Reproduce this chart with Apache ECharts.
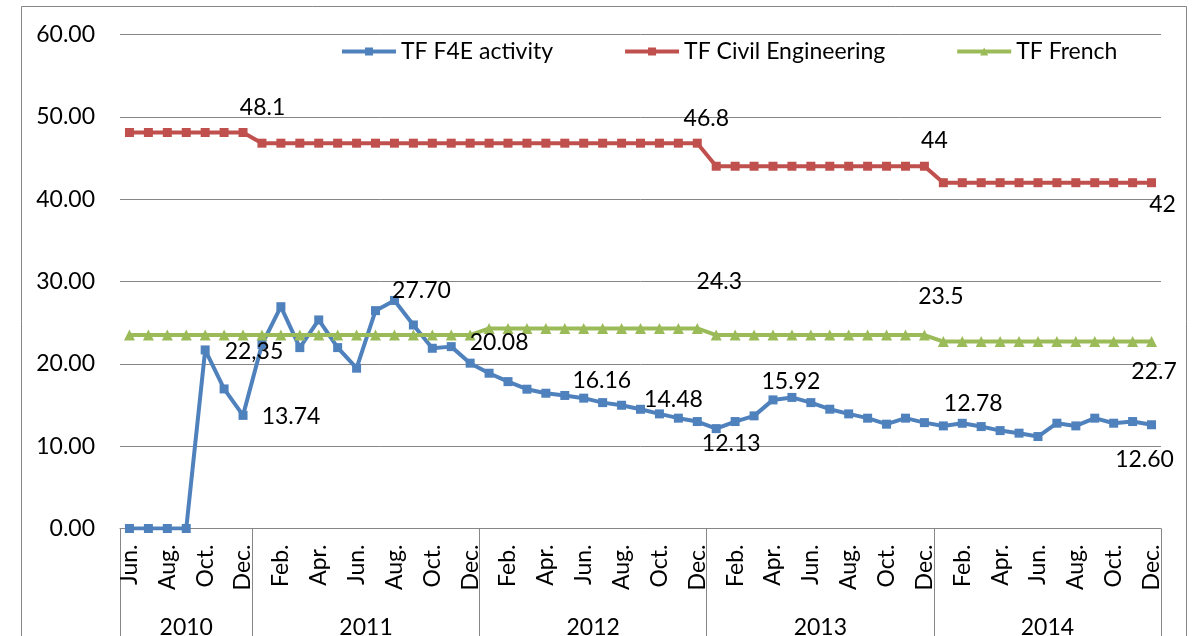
<!DOCTYPE html>
<html><head><meta charset="utf-8">
<script src="https://cdn.jsdelivr.net/npm/echarts@6/dist/echarts.min.js"></script>
<style>html,body{margin:0;padding:0;background:#fff}#c{width:1198px;height:636px}</style>
</head><body><div id="c"></div>
<script>
// ---------- data ----------
const years = ['2010', '2011', '2012', '2013', '2014'];
const monthsPerYear = [7, 12, 12, 12, 12];
const months2010 = ['Jun.', 'Jul.', 'Aug.', 'Sep.', 'Oct.', 'Nov.', 'Dec.'];
const monthsYear = ['Jan.', 'Feb.', 'Mar.', 'Apr.', 'May', 'Jun.', 'Jul.', 'Aug.', 'Sep.', 'Oct.', 'Nov.', 'Dec.'];
const categories = months2010.concat(monthsYear, monthsYear, monthsYear, monthsYear);
const yTickLabels = ['0.00', '10.00', '20.00', '30.00', '40.00', '50.00', '60.00'];

const seriesNames = ['TF F4E activity', 'TF Civil Engineering', 'TF French'];

const f4e = [0, 0, 0, 0, 21.69, 16.95, 13.74,
  22.35, 26.94, 21.97, 25.33, 21.97, 19.47, 26.46, 27.70, 24.72, 21.89, 22.09, 20.08,
  18.86, 17.84, 16.92, 16.43, 16.16, 15.83, 15.29, 14.97, 14.48, 13.92, 13.40, 12.99,
  12.13, 12.99, 13.68, 15.62, 15.92, 15.29, 14.49, 13.92, 13.40, 12.67, 13.40, 12.86,
  12.46, 12.78, 12.38, 11.89, 11.58, 11.17, 12.79, 12.46, 13.40, 12.79, 12.99, 12.60];

const civil = [48.1, 48.1, 48.1, 48.1, 48.1, 48.1, 48.1,
  46.8, 46.8, 46.8, 46.8, 46.8, 46.8, 46.8, 46.8, 46.8, 46.8, 46.8, 46.8,
  46.8, 46.8, 46.8, 46.8, 46.8, 46.8, 46.8, 46.8, 46.8, 46.8, 46.8, 46.8,
  44, 44, 44, 44, 44, 44, 44, 44, 44, 44, 44, 44,
  42, 42, 42, 42, 42, 42, 42, 42, 42, 42, 42, 42];

const french = [23.5, 23.5, 23.5, 23.5, 23.5, 23.5, 23.5,
  23.5, 23.5, 23.5, 23.5, 23.5, 23.5, 23.5, 23.5, 23.5, 23.5, 23.5, 23.5,
  24.3, 24.3, 24.3, 24.3, 24.3, 24.3, 24.3, 24.3, 24.3, 24.3, 24.3, 24.3,
  23.5, 23.5, 23.5, 23.5, 23.5, 23.5, 23.5, 23.5, 23.5, 23.5, 23.5, 23.5,
  22.7, 22.7, 22.7, 22.7, 22.7, 22.7, 22.7, 22.7, 22.7, 22.7, 22.7, 22.7];

const f4eLabelIdx = [6, 7, 14, 18, 23, 27, 31, 35, 44, 54];
const f4eLabelText = ['13.74', '22,35', '27.70', '20.08', '16.16', '14.48', '12.13', '15.92', '12.78', '12.60'];
const civilLabelIdx = [6, 30, 42, 54];
const civilLabelText = ['48.1', '46.8', '44', '42'];
const frenchLabelIdx = [30, 42, 54];
const frenchLabelText = ['24.3', '23.5', '22.7'];

// ---------- styles ----------
const FONT = 'Lato';
const FS = 23;
const f4eLabelOffset = [[48, 1], [-8, 7], [27, -10], [29, -21], [37, -15], [33, -10], [15, 15], [-1, -16], [11, -20], [-7, 35]];
const civilLabelOffset = [[19.5, -25], [9, -25], [10, -26], [11, 22]];
const frenchLabelOffset = [[22, -47], [16.5, -38], [2.5, 30]];

function withLabels(values, idx, texts, offsets) {
  return values.map(function (v, i) {
    const k = idx.indexOf(i);
    if (k < 0) return v;
    return {
      value: v,
      label: {
        show: true, position: 'inside', formatter: texts[k], offset: offsets[k],
        color: '#000', fontFamily: FONT, fontSize: FS
      }
    };
  });
}

// year band boundaries and centres (in band units)
const yearEdges = [0];
monthsPerYear.forEach(function (n) { yearEdges.push(yearEdges[yearEdges.length - 1] + n); });
const yearCenters = years.map(function (y, i) { return (yearEdges[i] + yearEdges[i + 1]) / 2; });

const chart = echarts.init(document.getElementById('c'));
chart.setOption({
  animation: false,
  textStyle: { fontFamily: FONT },
  graphic: [{
    type: 'rect', silent: true, z: -1,
    shape: { x: 21.5, y: 6.5, width: 1165, height: 700 },
    style: { fill: 'none', stroke: '#868686', lineWidth: 1 }
  }],
  grid: { left: 120, right: 37, top: 34.5, bottom: 107.5, containLabel: false, outerBoundsMode: 'none' },
  legend: {
    data: seriesNames,
    left: 340, top: 40, padding: 0,
    itemWidth: 54, itemHeight: 10, itemGap: 70,
    lineStyle: { width: 4 },
    textStyle: { fontFamily: FONT, fontSize: FS, color: '#000' }
  },
  xAxis: [{
    type: 'category', data: categories, position: 'bottom',
    boundaryGap: true,
    axisLine: { lineStyle: { color: '#868686', width: 1 } },
    axisTick: { show: false },
    axisLabel: {
      interval: 1, rotate: 90, margin: 16,
      fontFamily: FONT, fontSize: FS, color: '#000'
    },
    splitLine: { show: false }
  }, {
    type: 'value', position: 'bottom', offset: 0,
    min: 0, max: yearEdges[yearEdges.length - 1],
    axisLine: { show: false },
    axisTick: {
      show: true, customValues: yearEdges, length: 110,
      lineStyle: { color: '#868686', width: 1 }
    },
    axisLabel: {
      customValues: yearCenters, margin: 88,
      fontFamily: FONT, fontSize: FS, color: '#000',
      formatter: function (v) {
        const k = yearCenters.indexOf(v);
        return k < 0 ? '' : years[k];
      }
    },
    splitLine: { show: false }
  }],
  yAxis: {
    type: 'value', min: 0, max: 60, interval: 10,
    axisLine: { show: false },
    axisTick: { show: false },
    axisLabel: {
      margin: 25, fontFamily: FONT, fontSize: FS, color: '#000',
      formatter: function (v) { return yTickLabels[Math.round(v / 10)]; }
    },
    splitLine: { lineStyle: { color: '#868686', width: 1 } }
  },
  series: [{
    name: seriesNames[0], type: 'line', xAxisIndex: 0,
    data: withLabels(f4e, f4eLabelIdx, f4eLabelText, f4eLabelOffset),
    symbol: 'rect', symbolSize: 9, showAllSymbol: true,
    lineStyle: { color: '#4F81BD', width: 4 },
    itemStyle: { color: '#4F81BD' },
    emphasis: { disabled: true }
  }, {
    name: seriesNames[1], type: 'line', xAxisIndex: 0,
    data: withLabels(civil, civilLabelIdx, civilLabelText, civilLabelOffset),
    symbol: 'rect', symbolSize: 9, showAllSymbol: true,
    lineStyle: { color: '#C0504D', width: 4 },
    itemStyle: { color: '#C0504D' },
    emphasis: { disabled: true }
  }, {
    name: seriesNames[2], type: 'line', xAxisIndex: 0,
    data: withLabels(french, frenchLabelIdx, frenchLabelText, frenchLabelOffset),
    symbol: 'triangle', symbolSize: 11, showAllSymbol: true,
    lineStyle: { color: '#9BBB59', width: 4 },
    itemStyle: { color: '#9BBB59' },
    emphasis: { disabled: true }
  }]
});
</script></body></html>
